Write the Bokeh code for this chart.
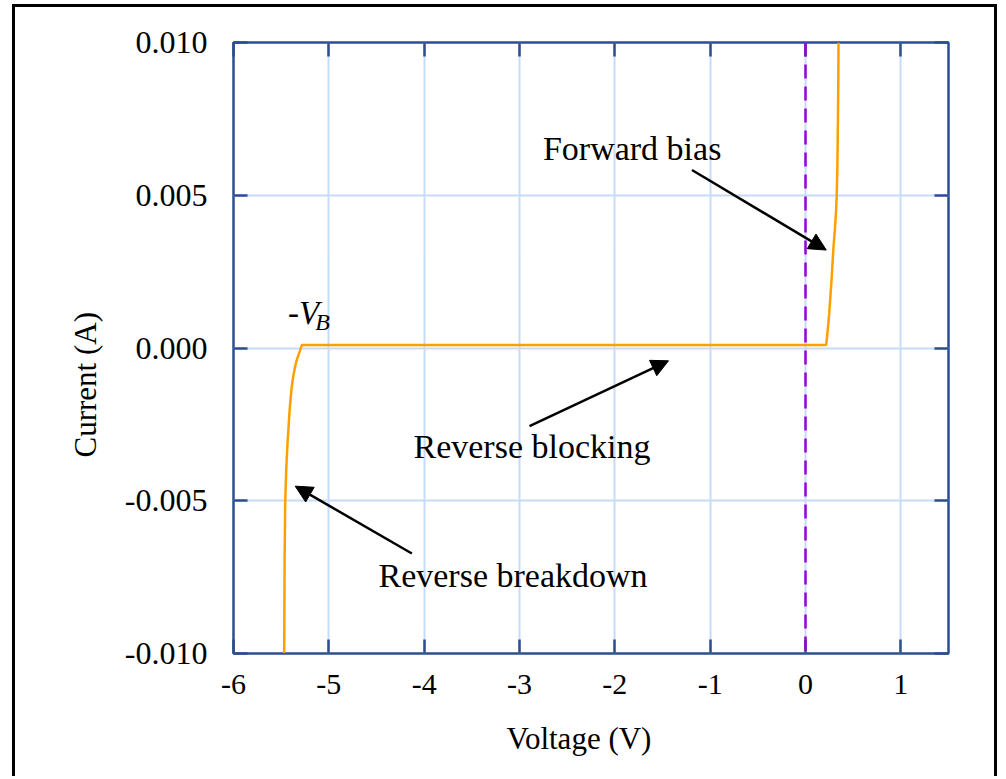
import math
from bokeh.plotting import figure
from bokeh.models import (FixedTicker, LinearAxis, Span, Label, Arrow, NormalHead,
                          CustomJSTickFormatter, Range1d, Title)
from bokeh.embed import file_html
from bokeh.resources import INLINE

# ---- data ----
voltage = [-5.4682, -5.4640, -5.4577, -5.4472, -5.4336, -5.4231, -5.4126, -5.3979, -5.3885,
           -5.3769, -5.3612, -5.3423, -5.3224, -5.3045, -5.2825,
           0.2175, 0.2333, 0.2488, 0.2729, 0.2939, 0.3075, 0.3191, 0.3275, 0.3348, 0.3400,
           0.3442, 0.3463]
current = [-0.00999, -0.006945, -0.005079, -0.003998, -0.003124, -0.002633, -0.002089, -0.001542,
           -0.001264, -0.000995, -0.000724, -0.000452, -0.000265, -0.000102, 0.0001,
           0.0001, 0.000586, 0.001133, 0.002223, 0.003314, 0.003861, 0.004407, 0.004974,
           0.005989, 0.007463, 0.008772, 0.0100]

x_ticks = [-6, -5, -4, -3, -2, -1, 0, 1]
x_tick_labels = ["-6", "-5", "-4", "-3", "-2", "-1", "0", "1"]
y_ticks = [-0.010, -0.005, 0.0, 0.005, 0.010]
y_tick_labels = ["-0.010", "-0.005", "0.000", "0.005", "0.010"]

reference_voltage = 0.0

FONT = "Liberation Serif"
FRAME = "#2d4e8f"
GRID = "#c6dbf7"

p = figure(width=985, height=772, output_backend="svg", toolbar_location=None,
           x_range=Range1d(-6, 1.5), y_range=Range1d(-0.010, 0.010),
           min_border_left=218, min_border_right=52, min_border_top=35, min_border_bottom=126,
           styles={"border-left": "3px solid black", "border-top": "3px solid black",
                   "border-right": "3px solid black", "margin-left": "12px", "margin-top": "4px"})

p.outline_line_color = FRAME
p.outline_line_width = 2.5
p.background_fill_color = "white"
p.border_fill_color = "white"

# axes
for ax in (p.xaxis[0], p.yaxis[0]):
    ax.axis_line_color = None
    ax.major_tick_in = 14
    ax.major_tick_out = 0
    ax.major_tick_line_color = FRAME
    ax.major_tick_line_width = 2.5
    ax.minor_tick_line_color = None
    ax.major_label_text_font = FONT
    ax.major_label_text_color = "black"

p.xaxis[0].ticker = FixedTicker(ticks=x_ticks)
p.xaxis[0].major_label_overrides = {t: l for t, l in zip(x_ticks, x_tick_labels)}
p.xaxis[0].major_label_text_font_size = "30px"
p.xaxis[0].major_label_standoff = 21

p.yaxis[0].ticker = FixedTicker(ticks=y_ticks)
p.yaxis[0].major_label_overrides = {t: l for t, l in zip(y_ticks, y_tick_labels)}
p.yaxis[0].major_label_text_font_size = "32px"
p.yaxis[0].major_label_standoff = 26

blank = CustomJSTickFormatter(code="return ''")
top_ax = LinearAxis(ticker=FixedTicker(ticks=x_ticks), formatter=blank)
right_ax = LinearAxis(ticker=FixedTicker(ticks=y_ticks), formatter=blank)
for ax in (top_ax, right_ax):
    ax.axis_line_color = None
    ax.major_tick_in = 14
    ax.major_tick_out = 0
    ax.major_tick_line_color = FRAME
    ax.major_tick_line_width = 2.5
    ax.minor_tick_line_color = None
    ax.major_label_text_font_size = "1px"
p.add_layout(top_ax, "above")
p.add_layout(right_ax, "right")

p.xgrid[0].ticker = FixedTicker(ticks=x_ticks)
p.ygrid[0].ticker = FixedTicker(ticks=y_ticks)
p.grid.grid_line_color = GRID
p.grid.grid_line_width = 2

# dashed reference line
p.add_layout(Span(location=reference_voltage, dimension="height", line_color="#9a00d6",
                  line_width=2.5, line_dash="14 8"))

# IV curve
p.line(voltage, current, line_color="#ffa000", line_width=2.5)

# annotations
arrows = [
    (-1.191, 0.005825, 0.2175, 0.003206),
    (-2.895, -0.002557, -1.437, -0.000419),
    (-4.129, -0.006726, -5.353, -0.004522),
]
for xs, ys, xe, ye in arrows:
    p.add_layout(Arrow(x_start=xs, y_start=ys, x_end=xe, y_end=ye, line_width=2.5,
                       line_color="black",
                       end=NormalHead(size=17, fill_color="black", line_color="black", line_width=1)))

texts = [
    ("Forward bias", -2.7545, 0.006535),
    ("Reverse blocking", -4.112, -0.003236),
    ("Reverse breakdown", -4.479, -0.007437),
]
for t, x, y in texts:
    p.add_layout(Label(x=x, y=y, text=t, text_font=FONT, text_font_size="34px",
                       text_color="black", text_baseline="alphabetic", text_align="left"))

p.add_layout(Label(x=-5.429, y=0.001142, text="-V", text_font=FONT, text_font_size="33px",
                   text_font_style="italic", text_color="black", text_baseline="alphabetic"))
p.add_layout(Label(x=-5.143, y=0.000850, text="B", text_font=FONT, text_font_size="24px",
                   text_font_style="italic", text_color="black", text_baseline="alphabetic"))

# axis titles
p.add_layout(Title(text="Voltage (V)", align="left", offset=273, text_font=FONT,
                   text_font_size="31px", text_font_style="normal", text_color="black",
                   standoff=44), "below")
p.add_layout(Title(text="Current (A)", align="left", offset=196, text_font=FONT,
                   text_font_size="31px", text_font_style="normal", text_color="black",
                   standoff=38), "left")

open("out.html", "w").write(file_html(p, INLINE))
